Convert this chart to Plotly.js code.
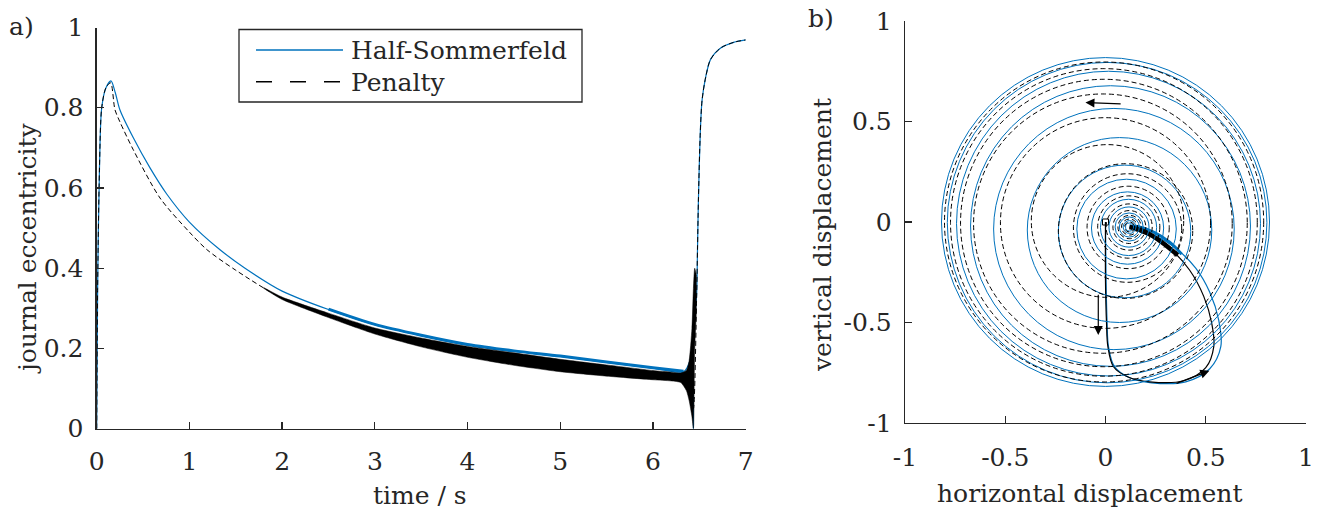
<!DOCTYPE html>
<html>
<head>
<meta charset="utf-8">
<script src="https://cdn.plot.ly/plotly-3.0.1.min.js"></script>
<style>html,body{margin:0;padding:0;background:#fff;}#chart{width:1321px;height:513px;}</style>
</head>
<body>
<div id="chart"></div>
<script>
// ---------- panel a) : journal eccentricity vs time ----------
const seriesNames = ["Half-Sommerfeld", "Penalty"];
const timeTicks = [0, 1, 2, 3, 4, 5, 6, 7];
const eccTicks = [0, 0.2, 0.4, 0.6, 0.8, 1];
const eccTickText = ["0", "0.2", "0.4", "0.6", "0.8", "1"];

const hsTime = [0, 0.01, 0.03, 0.054, 0.1, 0.154, 0.2, 0.25, 0.395, 0.575, 0.755, 1.0, 1.33, 1.6, 2.0, 2.5, 3.0, 3.5, 4.0, 4.5, 5.0, 5.5, 6.0, 6.33, 6.40, 6.425, 6.436, 6.44, 6.47, 6.48, 6.49, 6.51, 6.53, 6.57, 6.62, 6.73, 6.87, 7.0];
const hsEcc  = [0, 0.35, 0.65, 0.80, 0.85, 0.867, 0.838, 0.795, 0.725, 0.650, 0.585, 0.515, 0.446, 0.400, 0.343, 0.297, 0.259, 0.232, 0.209, 0.193, 0.180, 0.165, 0.151, 0.142, 0.17, 0.22, 0.0, 0.25, 0.33, 0.446, 0.57, 0.737, 0.82, 0.878, 0.92, 0.949, 0.963, 0.969];

// thick (oscillating) part of the Half-Sommerfeld curve
const hsBandTime = [2.5, 3.0, 3.5, 4.0, 4.5, 5.0, 5.5, 6.0, 6.33];
const hsBandEcc  = [0.298, 0.260, 0.233, 0.210, 0.194, 0.181, 0.166, 0.152, 0.143];

const penTime = [0, 0.01, 0.03, 0.054, 0.1, 0.15, 0.197, 0.25, 0.395, 0.683, 1.0, 1.19, 1.5, 2.0, 2.5, 3.0, 3.5, 4.0, 4.5, 5.0, 5.5, 6.0, 6.3, 6.4, 6.436, 6.47, 6.48, 6.49, 6.51, 6.53, 6.57, 6.62, 6.73, 6.87, 7.0];
const penEcc  = [0, 0.35, 0.65, 0.80, 0.85, 0.862, 0.795, 0.765, 0.695, 0.575, 0.49, 0.446, 0.395, 0.325, 0.283, 0.244, 0.217, 0.190, 0.172, 0.157, 0.145, 0.133, 0.128, 0.12, 0.05, 0.32, 0.446, 0.57, 0.737, 0.82, 0.878, 0.92, 0.949, 0.963, 0.969];

// envelope of the oscillating Penalty solution
const penBandTime  = [1.8, 2.0, 2.5, 3.0, 3.5, 4.0, 4.5, 5.0, 5.5, 6.0, 6.2, 6.3, 6.36, 6.39, 6.42, 6.436, 6.45, 6.47];
const penBandUpper = [0.352, 0.328, 0.288, 0.251, 0.226, 0.205, 0.189, 0.173, 0.159, 0.145, 0.141, 0.139, 0.145, 0.17, 0.25, 0.35, 0.40, 0.38];
const penBandLower = [0.350, 0.322, 0.277, 0.236, 0.204, 0.178, 0.158, 0.142, 0.131, 0.122, 0.119, 0.115, 0.095, 0.07, 0.03, 0.0, 0.2, 0.30];

// ---------- panel b) : journal orbit ----------
const dispTicks = [-1, -0.5, 0, 0.5, 1];
const dispTickText = ["-1", "-0.5", "0", "0.5", "1"];

// orbit turns (centre x, centre y, radius)
const hsTurnCx = [0.000, 0.008, 0.015, 0.025, 0.042, 0.070, 0.095, 0.105, 0.110, 0.115, 0.117, 0.118, 0.119, 0.120, 0.120];
const hsTurnCy = [0.000, -0.003, -0.008, -0.020, -0.035, -0.040, -0.047, -0.035, -0.030, -0.027, -0.025, -0.025, -0.025, -0.025, -0.025];
const hsTurnR  = [0.818, 0.797, 0.758, 0.698, 0.600, 0.460, 0.330, 0.248, 0.180, 0.140, 0.100, 0.070, 0.050, 0.032, 0.020];

const penTurnCx = [-0.007, -0.008, -0.008, -0.013, 0.000, 0.010, 0.100, 0.110, 0.113, 0.116, 0.118, 0.119, 0.120, 0.120, 0.120];
const penTurnCy = [0.000, -0.002, -0.005, -0.008, -0.005, 0.005, -0.045, -0.030, -0.027, -0.025, -0.025, -0.025, -0.025, -0.025, -0.025];
const penTurnR  = [0.796, 0.765, 0.715, 0.645, 0.524, 0.380, 0.335, 0.270, 0.205, 0.155, 0.115, 0.082, 0.058, 0.040, 0.025];

// start-up transient from the origin to the equilibrium
const hsPathX = [0, 0.003, 0.008, 0.015, 0.045, 0.12, 0.23, 0.40, 0.52, 0.575, 0.565, 0.52, 0.45, 0.35, 0.25, 0.15, 0.12];
const hsPathY = [0, -0.30, -0.50, -0.62, -0.72, -0.775, -0.80, -0.795, -0.73, -0.62, -0.49, -0.35, -0.23, -0.13, -0.07, -0.035, -0.025];
const penPathX = [0, 0.0, 0.005, 0.012, 0.04, 0.11, 0.22, 0.39, 0.50, 0.54, 0.53, 0.49, 0.42, 0.33, 0.23, 0.14, 0.12];
const penPathY = [0, -0.30, -0.50, -0.62, -0.72, -0.77, -0.795, -0.79, -0.725, -0.62, -0.505, -0.37, -0.24, -0.14, -0.075, -0.035, -0.025];

// dense oscillation near the equilibrium
const hsTailX = [0.12, 0.16, 0.24, 0.32, 0.38];
const hsTailY = [-0.02, -0.022, -0.05, -0.10, -0.16];
const penTailX = [0.12, 0.20, 0.28, 0.36];
const penTailY = [-0.025, -0.05, -0.10, -0.165];

// direction arrows (tail -> head)
const arrowTailX = [0.083, -0.036, 0.347];
const arrowTailY = [0.587, -0.355, -0.806];
const arrowHeadX = [-0.10, -0.036, 0.518];
const arrowHeadY = [0.594, -0.562, -0.740];

// ---------- styling ----------
const BLUE = "#0072BD";
const INK = "#262626";
const FONT = "DejaVu Serif";
const FS = 25;
const W = 1321, H = 513;
const px = v => v / W;
const py = v => 1 - v / H;

const traces = [
  {x: hsTime, y: hsEcc, type: "scatter", mode: "lines", name: seriesNames[0],
   line: {color: BLUE, width: 1.2, shape: "spline", smoothing: 0.8}, xaxis: "x", yaxis: "y", showlegend: false},
  {x: hsBandTime, y: hsBandEcc, type: "scatter", mode: "lines",
   line: {color: BLUE, width: 3, shape: "spline", smoothing: 0.8}, xaxis: "x", yaxis: "y", showlegend: false},
  {x: penBandTime, y: penBandLower, type: "scatter", mode: "lines",
   line: {color: "#000", width: 0.5, shape: "spline", smoothing: 0.6}, xaxis: "x", yaxis: "y", showlegend: false},
  {x: penBandTime, y: penBandUpper, type: "scatter", mode: "lines", fill: "tonexty",
   fillcolor: "#000", line: {color: "#000", width: 0.5, shape: "spline", smoothing: 0.6}, xaxis: "x", yaxis: "y", showlegend: false},
  {x: penTime, y: penEcc, type: "scatter", mode: "lines", name: seriesNames[1],
   line: {color: "#000", width: 1, dash: "5px,3px", shape: "spline", smoothing: 0.8}, xaxis: "x", yaxis: "y", showlegend: false},

  {x: hsPathX, y: hsPathY, type: "scatter", mode: "lines", line: {color: BLUE, width: 1.2, shape: "spline"},
   xaxis: "x2", yaxis: "y2", showlegend: false},
  {x: penPathX, y: penPathY, type: "scatter", mode: "lines", line: {color: "#000", width: 1.2, shape: "spline"},
   xaxis: "x2", yaxis: "y2", showlegend: false},
  {x: hsTailX, y: hsTailY, type: "scatter", mode: "lines", line: {color: BLUE, width: 3, shape: "spline"},
   xaxis: "x2", yaxis: "y2", showlegend: false},
  {x: penTailX, y: penTailY, type: "scatter", mode: "lines", line: {color: "#000", width: 4.5, shape: "spline"},
   xaxis: "x2", yaxis: "y2", showlegend: false},
  {x: [hsPathX[0]], y: [hsPathY[0]], type: "scatter", mode: "markers",
   marker: {symbol: "square-open", size: 6, color: "#000", line: {width: 1}},
   xaxis: "x2", yaxis: "y2", showlegend: false}
];

const shapes = [];
for (let i = 0; i < hsTurnR.length; i++) {
  shapes.push({type: "circle", xref: "x2", yref: "y2",
    x0: hsTurnCx[i] - hsTurnR[i], x1: hsTurnCx[i] + hsTurnR[i],
    y0: hsTurnCy[i] - hsTurnR[i], y1: hsTurnCy[i] + hsTurnR[i],
    line: {color: BLUE, width: 1}});
}
for (let i = 0; i < penTurnR.length; i++) {
  shapes.push({type: "circle", xref: "x2", yref: "y2",
    x0: penTurnCx[i] - penTurnR[i], x1: penTurnCx[i] + penTurnR[i],
    y0: penTurnCy[i] - penTurnR[i], y1: penTurnCy[i] + penTurnR[i],
    line: {color: "#000", width: 1, dash: "5px,3px"}});
}
// legend box and samples
shapes.push({type: "rect", xref: "paper", yref: "paper", x0: px(239), x1: px(582), y0: py(102), y1: py(29.5),
  line: {color: INK, width: 1.3}, fillcolor: "#fff", layer: "above"});
shapes.push({type: "line", xref: "paper", yref: "paper", x0: px(256), x1: px(343), y0: py(50), y1: py(50),
  line: {color: BLUE, width: 1.6}});
shapes.push({type: "line", xref: "paper", yref: "paper", x0: px(256), x1: px(343), y0: py(81.7), y1: py(81.7),
  line: {color: "#000", width: 1.6, dash: "16px,18px"}});

const annotations = [
  {text: "a)", xref: "paper", yref: "paper", x: px(7), y: py(27), xanchor: "left", yanchor: "middle", showarrow: false},
  {text: "b)", xref: "paper", yref: "paper", x: px(806), y: py(18), xanchor: "left", yanchor: "middle", showarrow: false},
  {text: "journal eccentricity", xref: "paper", yref: "paper", x: px(27), y: py(248), textangle: -90, xanchor: "center", yanchor: "middle", showarrow: false},
  {text: "time / s", xref: "paper", yref: "paper", x: px(420), y: py(495), xanchor: "center", yanchor: "middle", showarrow: false},
  {text: "vertical displacement", xref: "paper", yref: "paper", x: px(823), y: py(235), textangle: -90, xanchor: "center", yanchor: "middle", showarrow: false},
  {text: "horizontal displacement", xref: "paper", yref: "paper", x: px(1090), y: py(493), xanchor: "center", yanchor: "middle", showarrow: false},
  {text: seriesNames[0], xref: "paper", yref: "paper", x: px(349), y: py(51), xanchor: "left", yanchor: "middle", showarrow: false},
  {text: seriesNames[1], xref: "paper", yref: "paper", x: px(349), y: py(82), xanchor: "left", yanchor: "middle", showarrow: false}
];
for (let i = 0; i < arrowTailX.length; i++) {
  annotations.push({text: "", xref: "x2", yref: "y2", axref: "x2", ayref: "y2",
    x: arrowHeadX[i], y: arrowHeadY[i], ax: arrowTailX[i], ay: arrowTailY[i],
    showarrow: true, arrowhead: 2, arrowsize: 1.5, arrowwidth: 1.2, arrowcolor: "#000"});
}

const axisCommon = {
  showgrid: false, zeroline: false, showline: true, linecolor: INK, linewidth: 1.3,
  ticks: "inside", ticklen: 7, tickwidth: 1.3, tickcolor: INK, mirror: false,
  tickfont: {family: FONT, size: FS, color: INK}, automargin: false, fixedrange: true
};

const layout = {
  width: W, height: H,
  margin: {l: 0, r: 0, t: 0, b: 0},
  paper_bgcolor: "#fff", plot_bgcolor: "#fff",
  font: {family: FONT, size: FS, color: INK},
  showlegend: false,
  xaxis: Object.assign({}, axisCommon, {domain: [px(96.7), px(745.7)], range: [0, 7],
    tickvals: timeTicks, ticktext: timeTicks.map(String), anchor: "y", ticklabelstandoff: 10}),
  yaxis: Object.assign({}, axisCommon, {domain: [py(428.7), py(27.5)], range: [0, 1],
    tickvals: eccTicks, ticktext: eccTickText, anchor: "x", ticklabelstandoff: 7}),
  xaxis2: Object.assign({}, axisCommon, {domain: [px(905), px(1306)], range: [-1, 1],
    tickvals: dispTicks, ticktext: dispTickText, anchor: "y2", ticklabelstandoff: 12}),
  yaxis2: Object.assign({}, axisCommon, {domain: [py(423), py(21)], range: [-1, 1],
    tickvals: dispTicks, ticktext: dispTickText, anchor: "x2", ticklabelstandoff: 7}),
  shapes: shapes,
  annotations: annotations
};

Plotly.newPlot("chart", traces, layout, {displayModeBar: false, staticPlot: true});
</script>
</body>
</html>
